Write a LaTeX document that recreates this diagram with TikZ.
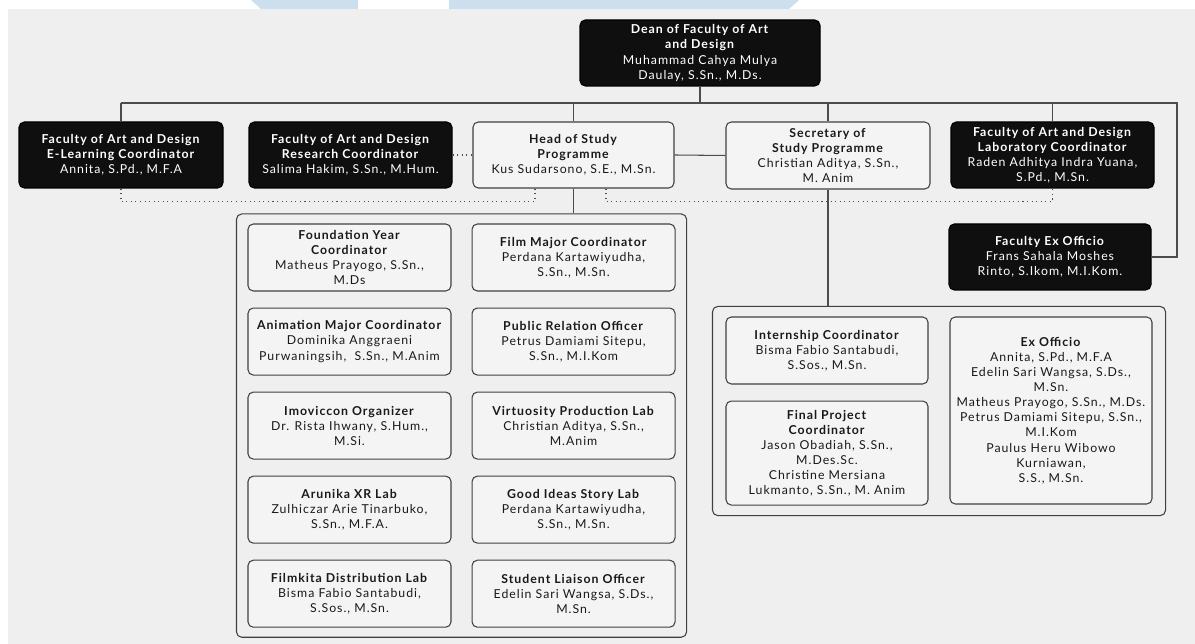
\documentclass[tikz,border=0pt]{standalone}
\usepackage{fontspec}
\setmainfont{Lato}[LetterSpace=8]
\usepackage{tikz}
\usetikzlibrary{positioning,fit,calc}
\definecolor{bgGray}{HTML}{EFEFEF}
\definecolor{boxGray}{HTML}{F4F4F4}
\definecolor{hdrBlue}{HTML}{CCDFEF}

\begin{document}
\begin{tikzpicture}[
    base/.style={rounded corners=3pt, align=center, inner sep=1pt, line width=0.6pt, font=\fontsize{7.0}{8.6}\selectfont},
    dark/.style={base, draw=black, fill=black!94, text=white, minimum width=4.06cm, minimum height=1.32cm},
    light/.style={base, draw=black!75, fill=boxGray, text=black!90, minimum width=4.06cm, minimum height=1.32cm},
    unit/.style={light, minimum height=1.34cm},
    group/.style={draw=black!75, rounded corners=3pt, line width=0.6pt, inner xsep=0.22cm, inner ysep=0.19cm},
    link/.style={draw=black!70, line width=0.6pt},
    dotlink/.style={link, dotted},
    node distance=0.32cm and 0.4cm,
]
    % Page background and header strip
    \useasboundingbox (0,0) rectangle (23.9,12.88);
    \fill[white] (0,0) rectangle (23.9,12.88);
    \fill[bgGray] (0.16,0) rectangle (23.9,12.70);
    \fill[hdrBlue] (5.02,12.88) -- (5.22,12.70) -- (7.16,12.70) -- (7.16,12.88) -- cycle;
    \fill[hdrBlue] (8.98,12.88) -- (8.98,12.70) -- (15.78,12.70) -- (15.98,12.88) -- cycle;

    % Dean
    \node[dark, minimum width=4.8cm, minimum height=1.32cm] (dean) at (14.0,11.82)
        {\textbf{Dean of Faculty of Art}\\\textbf{and Design}\\Muhammad Cahya Mulya\\Daulay, S.Sn., M.Ds.};

    % Second level
    \node[dark, minimum width=4.08cm] (elearn) at (2.42,9.78)
        {\textbf{Faculty of Art and Design}\\\textbf{E-Learning Coordinator}\\Annita, S.Pd., M.F.A};
    \node[dark] (research) at (7.01,9.78)
        {\textbf{Faculty of Art and Design}\\\textbf{Research Coordinator}\\Salima Hakim, S.Sn., M.Hum.};
    \node[light, minimum width=4.02cm] (head) at (11.47,9.78)
        {\textbf{Head of Study}\\\textbf{Programme}\\Kus Sudarsono, S.E., M.Sn.};
    \node[light, minimum width=4.08cm, minimum height=1.34cm] (secr) at (16.56,9.77)
        {\textbf{Secretary of}\\\textbf{Study Programme}\\Christian Aditya, S.Sn.,\\M. Anim};
    \node[dark] (labco) at (21.05,9.78)
        {\textbf{Faculty of Art and Design}\\\textbf{Laboratory Coordinator}\\Raden Adhitya Indra Yuana,\\S.Pd., M.Sn.};
    \node[dark, minimum width=4.04cm] (exfac) at (21.0,7.74)
        {\textbf{Faculty Ex Officio}\\Frans Sahala Moshes\\Rinto, S.Ikom, M.I.Kom.};

    % Units under the head of study programme
    \node[unit] (found) at (6.99,7.73)
        {\textbf{Foundation Year}\\\textbf{Coordinator}\\Matheus Prayogo, S.Sn.,\\M.Ds};
    \node[unit, right=of found] (film)
        {\textbf{Film Major Coordinator}\\Perdana Kartawiyudha,\\S.Sn., M.Sn.};
    \node[unit, below=of found] (anim)
        {\textbf{Animation Major Coordinator}\\Dominika Anggraeni\\Purwaningsih,\ \ S.Sn., M.Anim};
    \node[unit, right=of anim] (pr)
        {\textbf{Public Relation Officer}\\Petrus Damiami Sitepu,\\S.Sn., M.I.Kom};
    \node[unit, below=of anim] (imov)
        {\textbf{Imoviccon Organizer}\\Dr. Rista Ihwany, S.Hum.,\\M.Si.};
    \node[unit, right=of imov] (virt)
        {\textbf{Virtuosity Production Lab}\\Christian Aditya, S.Sn.,\\M.Anim};
    \node[unit, below=of imov] (arun)
        {\textbf{Arunika XR Lab}\\Zulhiczar Arie Tinarbuko,\\S.Sn., M.F.A.};
    \node[unit, right=of arun] (good)
        {\textbf{Good Ideas Story Lab}\\Perdana Kartawiyudha,\\S.Sn., M.Sn.};
    \node[unit, below=of arun] (filmkita)
        {\textbf{Filmkita Distribution Lab}\\Bisma Fabio Santabudi,\\S.Sos., M.Sn.};
    \node[unit, right=of filmkita] (liaison)
        {\textbf{Student Liaison Officer}\\Edelin Sari Wangsa, S.Ds.,\\M.Sn.};
    \node[group, fit=(found)(film)(filmkita)(liaison)] (leftgrp) {};

    % Units under the secretary
    \node[unit, minimum width=4.04cm] (intern) at (16.54,5.87)
        {\textbf{Internship Coordinator}\\Bisma Fabio Santabudi,\\S.Sos., M.Sn.};
    \node[unit, minimum width=4.04cm, minimum height=2.08cm, below=of intern] (finalp)
        {\textbf{Final Project}\\\textbf{Coordinator}\\Jason Obadiah, S.Sn.,\\M.Des.Sc.\\Christine Mersiana\\Lukmanto, S.Sn., M. Anim};
    \node[unit, minimum width=4.04cm, minimum height=3.74cm] (exoff) at (21.02,4.67)
        {\textbf{Ex Officio}\\Annita, S.Pd., M.F.A\\Edelin Sari Wangsa, S.Ds.,\\M.Sn.\\Matheus Prayogo, S.Sn., M.Ds.\\Petrus Damiami Sitepu, S.Sn.,\\M.I.Kom\\Paulus Heru Wibowo\\Kurniawan,\\S.S., M.Sn.};
    \node[group, inner xsep=0.26cm, inner ysep=0.2cm, fit=(intern)(finalp)(exoff)] (rightgrp) {};

    % Lines
    \coordinate (bus) at (0,10.82);
    \coordinate (busend) at (23.54,10.82);
    \draw[link] (dean.south) -- (dean.south |- bus);
    \draw[link] (elearn.north |- bus) -- (busend) |- (exfac.east);
    \foreach \n in {elearn, head, secr, labco}
        \draw[link] (\n.north) -- (\n.north |- bus);
    \draw[link] (head.east) -- (secr.west);
    \draw[link] (head.south) -- (head.south |- leftgrp.north);
    \draw[link] (secr.south) -- (secr.south |- rightgrp.north);
    \draw[dotlink] (research.east) -- (head.west);
    \draw[dotlink] (elearn.south) -- ++(0,-0.26) -| ($(head.south)+(-0.77,0)$);
    \draw[dotlink] ($(head.south)+(0.65,0)$) -- ++(0,-0.26) -| (labco.south);
\end{tikzpicture}
\end{document}
